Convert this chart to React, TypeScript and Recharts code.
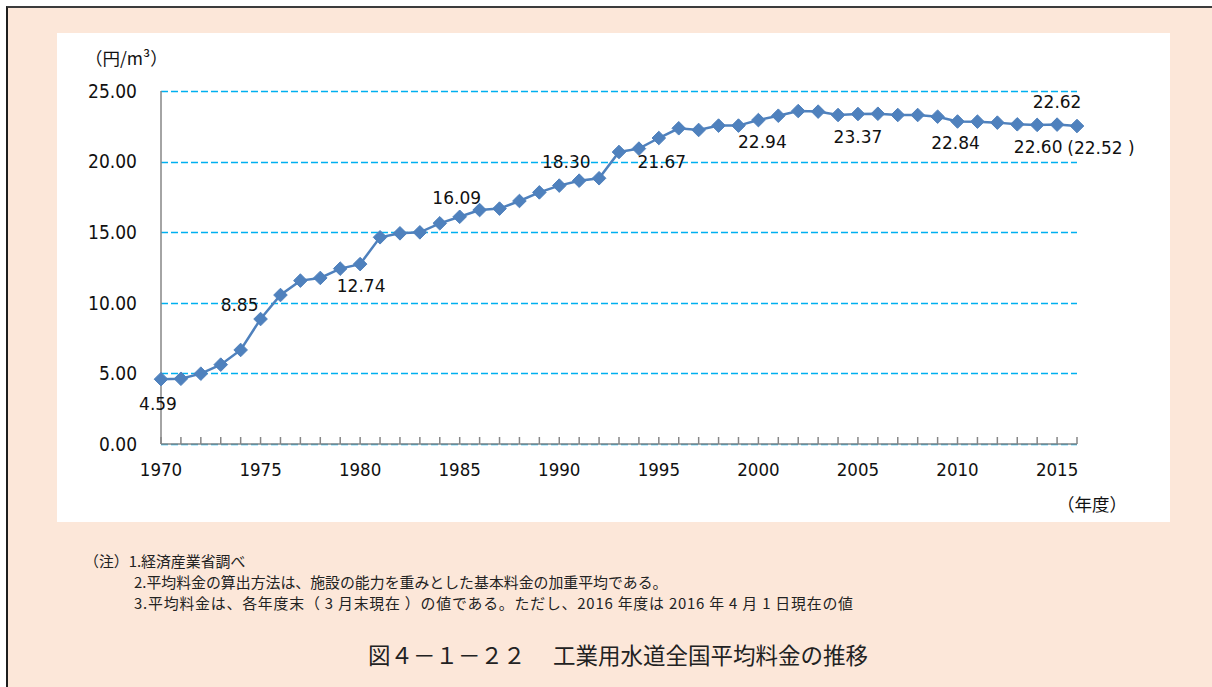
import React from "react";
import { LineChart, Line, XAxis, YAxis, CartesianGrid, LabelList } from "recharts";

// fiscal years and average industrial water rate (yen / m3)
const years = [
  1970, 1971, 1972, 1973, 1974, 1975, 1976, 1977, 1978, 1979,
  1980, 1981, 1982, 1983, 1984, 1985, 1986, 1987, 1988, 1989,
  1990, 1991, 1992, 1993, 1994, 1995, 1996, 1997, 1998, 1999,
  2000, 2001, 2002, 2003, 2004, 2005, 2006, 2007, 2008, 2009,
  2010, 2011, 2012, 2013, 2014, 2015, 2016,
];
const rates = [
  4.59, 4.62, 4.98, 5.62, 6.66, 8.85, 10.55, 11.57, 11.76, 12.42,
  12.74, 14.64, 14.92, 14.99, 15.63, 16.09, 16.57, 16.67, 17.21, 17.82,
  18.3, 18.65, 18.82, 20.68, 20.92, 21.67, 22.36, 22.24, 22.55, 22.55,
  22.94, 23.25, 23.58, 23.54, 23.3, 23.37, 23.39, 23.3, 23.3, 23.18,
  22.84, 22.83, 22.76, 22.64, 22.6, 22.62, 22.52,
];
const labeledYears = [1970, 1975, 1980, 1985, 1990, 1995, 2000, 2005, 2010, 2014, 2015, 2016];
const bracketedYears = [2016];
const xTickLabels = [1970, 1975, 1980, 1985, 1990, 1995, 2000, 2005, 2010, 2015];
const yTicks = [0, 5, 10, 15, 20, 25];

const notes = [
  "（注）1.経済産業省調べ",
  "2.平均料金の算出方法は、施設の能力を重みとした基本料金の加重平均である。",
  "3.平均料金は、各年度末（ 3 月末現在 ）の値である。ただし、2016 年度は 2016 年 4 月 1 日現在の値",
];
const title = "図４－１－２２　 工業用水道全国平均料金の推移";

const data = years.map((year, i) => ({ year, value: rates[i] }));

// where each value label sits relative to its point
const labelOffset: Record<number, [number, number]> = {
  1970: [-3, 25],
  1975: [-21, -14],
  1980: [1, 22],
  1985: [-3, -19],
  1990: [7, -24],
  1995: [3, 24],
  2000: [4, 22],
  2005: [0, 23],
  2010: [-2, 22],
  2014: [1, 22],
  2015: [0, -23],
  2016: [24, 22],
};

const BLUE = "#4F81BD";
const AXIS = "#868686";
const numFont = "'DejaVu Sans Condensed', 'DejaVu Sans', sans-serif";
const jpFont = "'Noto Sans CJK JP', sans-serif";

const Diamond = (props: any) => {
  const { cx, cy } = props;
  if (cx == null || cy == null) return null;
  const r = 6.8;
  return (
    <path
      key={`d-${props.index}`}
      d={`M${cx},${cy - r}L${cx + r},${cy}L${cx},${cy + r}L${cx - r},${cy}Z`}
      fill={BLUE}
      stroke={BLUE}
      strokeWidth={1}
      strokeLinejoin="round"
    />
  );
};

const YearTick = (props: any) => {
  const { x, y, payload } = props;
  const yr = payload.value as number;
  return (
    <g>
      <line x1={x} y1={y} x2={x} y2={y - 7} stroke={AXIS} strokeWidth={1.5} />
      {xTickLabels.includes(yr) && (
        <text x={x} y={y + 32} textAnchor="middle" fontSize={18.5} fontFamily={numFont} fill="#111">
          {yr}
        </text>
      )}
    </g>
  );
};

const ValueLabel = (props: any) => {
  const { index, value } = props;
  const vb = props.viewBox || {};
  const x = props.x ?? vb.x;
  const y = props.y ?? vb.y;
  const yr = years[index];
  if (!labeledYears.includes(yr) || x == null || y == null) return null;
  const [dx, dy] = labelOffset[yr] || [0, -20];
  const txt = Number(value).toFixed(2);
  return (
    <text
      x={x + dx}
      y={y + dy}
      textAnchor="middle"
      dominantBaseline="central"
      fontSize={17}
      fontFamily="'DejaVu Sans', sans-serif"
      fill="#111"
    >
      {bracketedYears.includes(yr) ? `(${txt} )` : txt}
    </text>
  );
};

// snap grid lines to whole pixels so the dashes stay crisp
const gridRows = (args: any) => {
  const { yAxis, offset } = args || {};
  return yTicks.map((t) => {
    const pos =
      yAxis && typeof yAxis.scale === "function"
        ? yAxis.scale(t)
        : offset.top + offset.height * (1 - t / 25);
    return Math.round(pos) + 0.5;
  });
};

const App: React.FC = () => {
  return (
    <div style={{ position: "absolute", left: 0, top: 0, width: 1212, height: 687, background: "#fff", overflow: "hidden" }}>
      <div
        style={{
          position: "absolute",
          left: 6,
          top: 6,
          width: 1206,
          height: 681,
          boxSizing: "border-box",
          background: "#FCE7D9",
          borderTop: "2px solid #3c3c3c",
          borderLeft: "2px solid #1e1e1e",
        }}
      />
      <div style={{ position: "absolute", left: 57, top: 33, width: 1113, height: 489, background: "#fff" }}>
        <LineChart width={1113} height={489} data={data} margin={{ top: 58, right: 93, left: 24, bottom: 38 }}>
          <CartesianGrid
            vertical={false}
            stroke="#00B0F0"
            strokeWidth={1.6}
            strokeDasharray="7 3"
            horizontalCoordinatesGenerator={gridRows}
          />
          <XAxis
            type="number"
            dataKey="year"
            domain={[1970, 2016]}
            ticks={years}
            interval={0}
            height={40}
            tickSize={0}
            tickMargin={0}
            tickLine={false}
            axisLine={{ stroke: AXIS, strokeWidth: 1.5 }}
            tick={<YearTick />}
          />
          <YAxis
            type="number"
            domain={[0, 25]}
            ticks={yTicks}
            width={80}
            tickSize={0}
            tickMargin={24}
            tickLine={false}
            axisLine={{ stroke: AXIS, strokeWidth: 1.5 }}
            tickFormatter={(v: number) => v.toFixed(2)}
            tick={{ fontSize: 19, fontFamily: numFont, fill: "#111" }}
          />
          <Line
            type="linear"
            dataKey="value"
            stroke={BLUE}
            strokeWidth={2.5}
            dot={<Diamond />}
            activeDot={false}
            isAnimationActive={false}
          >
            <LabelList dataKey="value" content={<ValueLabel />} />
          </Line>
        </LineChart>
        <div style={{ position: "absolute", left: 28, top: 12, fontFamily: jpFont, fontSize: 17.5, color: "#111", whiteSpace: "nowrap" }}>
          （円/m³）
        </div>
        <div style={{ position: "absolute", left: 1000, top: 458, fontFamily: jpFont, fontSize: 17.5, color: "#111", whiteSpace: "nowrap" }}>
          （年度）
        </div>
      </div>
      <div style={{ position: "absolute", left: 84, top: 550, fontFamily: jpFont, fontSize: 14.9, color: "#222", lineHeight: "21px", whiteSpace: "nowrap" }}>
        <div>{notes[0]}</div>
        <div style={{ paddingLeft: 50 }}>{notes[1]}</div>
        <div style={{ paddingLeft: 50, letterSpacing: "0.8px" }}>{notes[2]}</div>
      </div>
      <div style={{ position: "absolute", left: 368, top: 638, fontFamily: jpFont, fontSize: 22.5, color: "#222", whiteSpace: "nowrap" }}>
        {title}
      </div>
    </div>
  );
};

export default App;
